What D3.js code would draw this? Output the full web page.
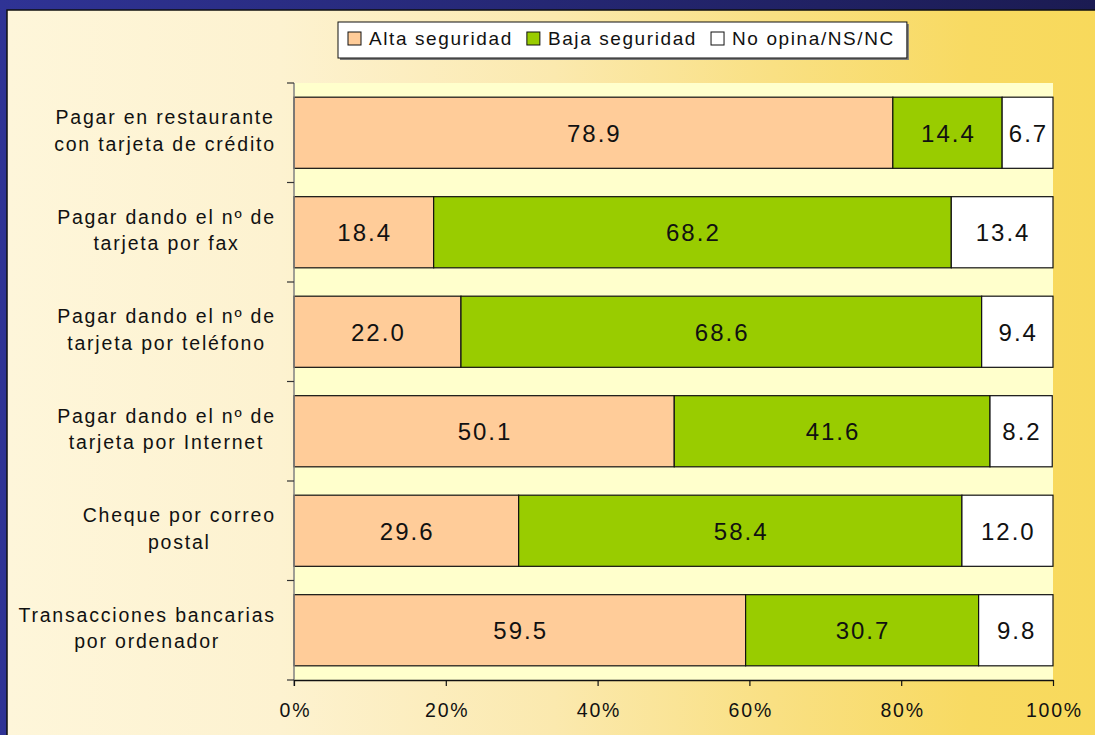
<!DOCTYPE html>
<html>
<head>
<meta charset="utf-8">
<script src="https://cdn.jsdelivr.net/npm/d3@7"></script>
<style>
  html, body { margin: 0; padding: 0; background: #2E3192; }
  svg { display: block; }
  text { font-family: "Liberation Sans", Arial, Helvetica, sans-serif; fill: #111; }
</style>
</head>
<body>
<svg id="chart" width="1095" height="735"></svg>
<script>
// Survey: perceived security of payment methods (percent of respondents)
const categories = [
  "Pagar en restaurante\ncon tarjeta de crédito",
  "Pagar dando el nº de\ntarjeta por fax",
  "Pagar dando el nº de\ntarjeta por teléfono",
  "Pagar dando el nº de\ntarjeta por Internet",
  "Cheque por correo\npostal",
  "Transacciones bancarias\npor ordenador"
];
const seriesNames = ["Alta seguridad", "Baja seguridad", "No opina/NS/NC"];
const altaSeguridad = [78.9, 18.4, 22.0, 50.1, 29.6, 59.5];
const bajaSeguridad = [14.4, 68.2, 68.6, 41.6, 58.4, 30.7];
const noOpina      = [6.7, 13.4, 9.4, 8.2, 12.0, 9.8];
const tickValues = [0, 20, 40, 60, 80, 100];
const tickLabels = ["0%", "20%", "40%", "60%", "80%", "100%"];

const seriesColors = ["#FFCC99", "#99CC00", "#FFFFFF"];

const W = 1095, H = 735;
const plot = { left: 294, right: 1053, top: 83, bottom: 680 };
const LS = 1.8; // letter spacing in px

const svg = d3.select("#chart");
const defs = svg.append("defs");

// Frame gradient (blue) and panel gradient (cream to yellow)
const frameGrad = defs.append("linearGradient").attr("id", "frameGrad")
  .attr("x1", "0").attr("x2", "1").attr("y1", "0").attr("y2", "0");
frameGrad.append("stop").attr("offset", "0%").attr("stop-color", "#2F3395");
frameGrad.append("stop").attr("offset", "100%").attr("stop-color", "#1B1B52");

const panelGrad = defs.append("linearGradient").attr("id", "panelGrad")
  .attr("x1", "0").attr("x2", "1").attr("y1", "0").attr("y2", "0");
[["0%", "#FEF6DA"], ["25%", "#FDF2D0"], ["50%", "#FBE9AE"], ["70%", "#F9E083"],
 ["88%", "#F8DA62"], ["100%", "#F8D95B"]].forEach(([o, c]) =>
  panelGrad.append("stop").attr("offset", o).attr("stop-color", c));

svg.append("rect").attr("width", W).attr("height", H).attr("fill", "url(#frameGrad)");
svg.append("rect").attr("x", 7).attr("y", 10).attr("width", W).attr("height", H)
  .attr("fill", "url(#panelGrad)").attr("stroke", "#111").attr("stroke-width", 1.5);

// Scales
const x = d3.scaleLinear().domain([0, 100]).range([plot.left, plot.right]);
const y = d3.scaleBand().domain(categories).range([plot.top, plot.bottom])
  .paddingInner(0.285).paddingOuter(0.1425);

// Plot area background
svg.append("rect")
  .attr("x", plot.left).attr("y", plot.top)
  .attr("width", plot.right - plot.left).attr("height", plot.bottom - plot.top)
  .attr("fill", "#FFFFCC");

// Stack the three series
const rows = categories.map((c, i) => ({
  cat: c, a: altaSeguridad[i], b: bajaSeguridad[i], n: noOpina[i]
}));
const stack = d3.stack().keys(["a", "b", "n"]);
const stacked = stack(rows);

const layers = svg.append("g").selectAll("g").data(stacked).join("g")
  .attr("fill", (d, i) => seriesColors[i]);

layers.selectAll("rect").data(d => d).join("rect")
  .attr("x", d => x(d[0]))
  .attr("y", d => y(d.data.cat))
  .attr("width", d => x(d[1]) - x(d[0]))
  .attr("height", y.bandwidth())
  .attr("stroke", "#111").attr("stroke-width", 1.2);

// Value labels centred in each segment
layers.selectAll("text").data(d => d).join("text")
  .attr("x", d => (x(d[0]) + x(d[1])) / 2 + LS / 2)
  .attr("y", d => y(d.data.cat) + y.bandwidth() / 2 + 9)
  .attr("text-anchor", "middle")
  .attr("font-size", 24)
  .attr("letter-spacing", 2)
  .attr("fill", "#111")
  .text(d => (d[1] - d[0]).toFixed(1));

// Left axis: grey line with ticks at band boundaries
const leftTicks = d3.range(categories.length + 1).map(i => plot.top + i * (plot.bottom - plot.top) / categories.length);
svg.append("line")
  .attr("x1", plot.left).attr("x2", plot.left)
  .attr("y1", plot.top).attr("y2", plot.bottom + 6)
  .attr("stroke", "#808080").attr("stroke-width", 1.5);
svg.append("g").selectAll("line").data(leftTicks).join("line")
  .attr("x1", plot.left - 7).attr("x2", plot.left)
  .attr("y1", d => d).attr("y2", d => d)
  .attr("stroke", "#333").attr("stroke-width", 1.2);

// Bottom axis
const xAxis = d3.axisBottom(x).tickValues(tickValues)
  .tickFormat((d, i) => tickLabels[i]).tickSize(6).tickSizeOuter(0);
const gx = svg.append("g").attr("transform", `translate(0,${plot.bottom})`).call(xAxis);
gx.select(".domain").attr("stroke", "#111").attr("stroke-width", 1.3);
gx.selectAll(".tick line").attr("stroke", "#111").attr("stroke-width", 1.2);
gx.selectAll(".tick text")
  .attr("y", 36.5).attr("dy", 0).attr("dx", LS / 2)
  .attr("font-size", 19.5).attr("letter-spacing", LS)
  .attr("fill", "#111");
gx.attr("font-family", null).attr("font-size", null);

// Category labels: two lines, block right-aligned, lines centred within the block
const labelRight = 275;
const catG = svg.append("g");
categories.forEach(c => {
  const lines = c.split("\n");
  const cy = y(c) + y.bandwidth() / 2;
  const g = catG.append("g");
  const texts = lines.map((ln, k) => g.append("text")
    .attr("y", cy + (k === 0 ? -8.5 : 18))
    .attr("text-anchor", "middle")
    .attr("font-size", 19.5)
    .attr("letter-spacing", LS)
    .text(ln));
  const widths = texts.map(t => t.node().getComputedTextLength());
  const maxW = d3.max(widths);
  const cx = labelRight - maxW / 2;
  texts.forEach(t => t.attr("x", cx + LS / 2));
});

// Legend
const legend = svg.append("g");
const lgShadow = legend.append("rect").attr("fill", "#7a7a7a");
const lgBox = legend.append("rect").attr("fill", "#fff").attr("stroke", "#111").attr("stroke-width", 1);
const itemGap = 14;
let lx = 348;
seriesNames.forEach((name, i) => {
  legend.append("rect")
    .attr("x", lx).attr("y", 32).attr("width", 13).attr("height", 13)
    .attr("fill", seriesColors[i]).attr("stroke", "#111").attr("stroke-width", 1);
  const t = legend.append("text")
    .attr("x", lx + 21).attr("y", 44.5)
    .attr("font-size", 19).attr("letter-spacing", 1.6)
    .text(name);
  const w = t.node().getComputedTextLength();
  lx = lx + 21 + w + itemGap;
});
const boxX = 338, boxY = 22, boxW = (lx - itemGap + 12) - boxX, boxH = 36;
lgBox.attr("x", boxX).attr("y", boxY).attr("width", boxW).attr("height", boxH);
lgShadow.attr("x", boxX + 2).attr("y", boxY + 2).attr("width", boxW).attr("height", boxH);
</script>
</body>
</html>
